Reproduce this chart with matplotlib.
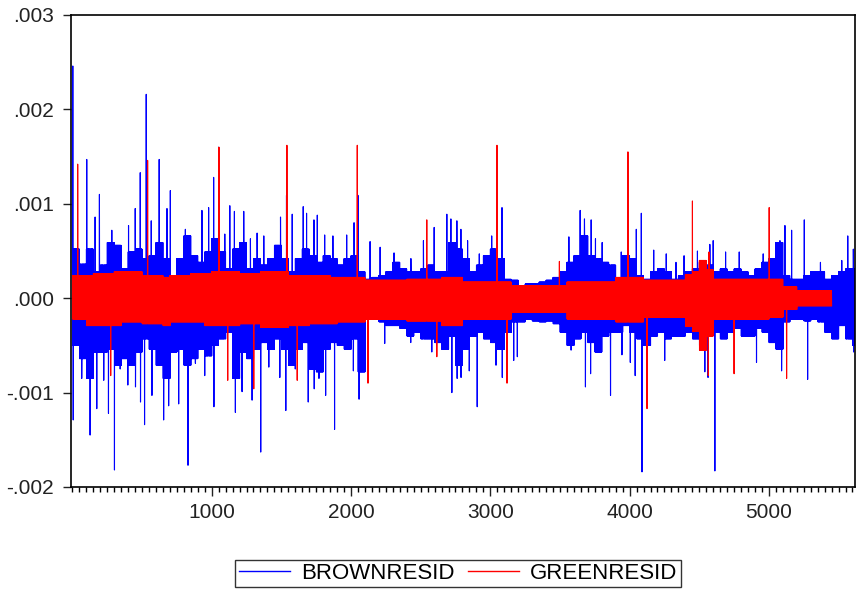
import matplotlib

matplotlib.use("Agg")
import matplotlib.pyplot as plt
import numpy as np
from matplotlib.ticker import FixedLocator, FuncFormatter, MultipleLocator

plt.rcParams["font.family"] = ["Liberation Sans", "DejaVu Sans"]

# residuals in units of 1e-3
N_BROWN = 5618
N_GREEN = 5450
BIN = 50  # observations per envelope bin

# dense body of BROWNRESID per 50-obs bin
brown_top = [0.52, 0.36, 0.52, 0.28, 0.35, 0.59, 0.56, 0.31, 0.49, 0.52,
             0.42, 0.45, 0.59, 0.42, 0.24, 0.42, 0.66, 0.45, 0.38, 0.49,
             0.63, 0.49, 0.31, 0.52, 0.59, 0.31, 0.42, 0.35, 0.42, 0.56,
             0.42, 0.28, 0.42, 0.52, 0.45, 0.38, 0.45, 0.42, 0.35, 0.42,
             0.45, 0.28, 0.20, 0.22, 0.24, 0.28, 0.38, 0.31, 0.28, 0.28,
             0.31, 0.35, 0.28, 0.28, 0.59, 0.52, 0.42, 0.28, 0.35, 0.45,
             0.52, 0.42, 0.20, 0.19, 0.13, 0.15, 0.15, 0.17, 0.19, 0.22,
             0.28, 0.38, 0.45, 0.66, 0.45, 0.42, 0.38, 0.35, 0.20, 0.45,
             0.42, 0.24, 0.20, 0.28, 0.31, 0.28, 0.20, 0.24, 0.28, 0.31,
             0.38, 0.35, 0.28, 0.31, 0.28, 0.31, 0.28, 0.24, 0.31, 0.38,
             0.42, 0.59, 0.24, 0.20, 0.20, 0.24, 0.28, 0.28, 0.20, 0.24,
             0.28, 0.31, 0.31]
brown_bot = [-0.50, -0.64, -0.85, -0.57, -0.57, -0.54, -0.71, -0.64, -0.71, -0.57,
             -0.43, -0.54, -0.71, -0.85, -0.57, -0.54, -0.71, -0.64, -0.54, -0.61,
             -0.50, -0.43, -0.36, -0.85, -0.57, -0.64, -0.54, -0.47, -0.54, -0.43,
             -0.54, -0.71, -0.54, -0.47, -0.75, -0.78, -0.54, -0.47, -0.50, -0.54,
             -0.43, -0.78, -0.22, -0.22, -0.25, -0.29, -0.29, -0.32, -0.40, -0.36,
             -0.43, -0.43, -0.47, -0.54, -0.40, -0.71, -0.54, -0.40, -0.36, -0.43,
             -0.47, -0.54, -0.36, -0.25, -0.25, -0.22, -0.24, -0.25, -0.24, -0.27,
             -0.36, -0.50, -0.43, -0.36, -0.47, -0.57, -0.40, -0.36, -0.36, -0.29,
             -0.36, -0.43, -0.50, -0.40, -0.36, -0.43, -0.40, -0.40, -0.36, -0.43,
             -0.50, -0.36, -0.36, -0.43, -0.36, -0.32, -0.40, -0.40, -0.32, -0.36,
             -0.47, -0.54, -0.25, -0.22, -0.22, -0.24, -0.22, -0.25, -0.36, -0.43,
             -0.29, -0.43, -0.50]

# isolated BROWNRESID spikes (observation, value)
brown_up_obs = [3, 103, 163, 194, 283, 403, 451, 487, 530, 566, 623, 679, 703, 811, 930, 978, 1014, 1050,
                1094, 1130, 1163, 1230, 1278, 1326, 1374, 1494, 1537, 1578, 1657, 1681, 1734, 1758, 1811,
                1870, 1969, 2022, 2050, 2137, 2209, 2309, 2430, 2520, 2597, 2688, 2717, 2760, 2789, 2837,
                2921, 3010, 3084, 3564, 3645, 3676, 3724, 3755, 3803, 3940, 4048, 4084, 4173, 4263, 4333,
                4391, 4487, 4576, 4600, 4689, 4787, 4959, 5079, 5115, 5163, 5254, 5370, 5523, 5566, 5606]
brown_up_val = [2.46, 1.47, 0.86, 1.10, 0.72, 0.77, 0.95, 1.33, 2.16, 0.82, 1.47, 0.95, 1.14, 0.73, 0.93, 0.96, 1.28, 1.60,
                0.68, 0.98, 0.92, 0.92, 0.63, 0.69, 0.66, 0.86, 1.09, 0.89, 0.97, 0.90, 0.83, 0.88, 0.67,
                0.66, 0.67, 0.80, 1.09, 0.60, 0.54, 0.48, 0.42, 0.61, 0.75, 0.89, 0.84, 0.82, 0.73, 0.61,
                0.47, 0.66, 0.96, 0.65, 0.93, 0.84, 0.83, 0.63, 0.59, 0.49, 0.73, 0.90, 0.51, 0.47, 0.38,
                0.45, 0.50, 0.57, 0.61, 0.49, 0.49, 0.47, 0.61, 0.77, 0.72, 0.83, 0.38, 0.40, 0.66, 0.52]
brown_dn_obs = [6, 67, 127, 175, 225, 259, 302, 343, 398, 453, 489, 518, 571, 655, 691, 763, 830, 883, 950,
                1016, 1170, 1218, 1290, 1352, 1410, 1489, 1532, 1600, 1693, 1736, 1770, 1818, 1882, 2017,
                2058, 2242, 2429, 2580, 2724, 2762, 2790, 2849, 2906, 3041, 3086, 3168, 3194, 3580, 3683,
                3720, 3863, 3945, 4005, 4040, 4089, 4252, 4540, 4563, 4612, 4911, 5091, 5278, 5608]
brown_dn_val = [-1.29, -0.85, -1.45, -1.17, -0.87, -1.22, -1.82, -0.75, -0.92, -0.94, -1.10, -1.34, -1.03, -1.29, -1.14, -1.12, -1.77, -0.69, -0.82,
                -1.15, -1.21, -0.99, -1.08, -1.63, -0.73, -0.84, -1.19, -0.75, -1.10, -0.96, -0.85, -1.03, -1.39, -0.77,
                -1.07, -0.48, -0.47, -0.57, -1.00, -0.85, -0.84, -0.77, -1.15, -0.71, -0.84, -0.66, -0.62, -0.55, -0.94,
                -0.80, -1.03, -0.60, -0.68, -0.82, -1.84, -0.66, -0.78, -0.84, -1.83, -0.68, -0.77, -0.86, -0.57]

# dense body of GREENRESID per 50-obs bin
green_top = ([0.24] * 3 + [0.26] * 3 + [0.28] * 4 + [0.24] * 3 + [0.22] + [0.24] * 3 + [0.26] * 3
             + [0.28] * 4 + [0.26] * 3 + [0.28] * 4 + [0.24] * 6 + [0.22] * 5 + [0.19] * 6 + [0.20] * 5
             + [0.22] * 3 + [0.17] * 7 + [0.13] * 8 + [0.17] * 7 + [0.22] * 4 + [0.19] * 6 + [0.25]
             + [0.28, 0.40, 0.30] + [0.20] * 8 + [0.20] * 2 + [0.12] * 2 + [0.08] * 5)
green_bot = ([-0.22] * 2 + [-0.29] * 5 + [-0.25] * 3 + [-0.27] * 3 + [-0.29] + [-0.25] * 5 + [-0.29] * 5
             + [-0.27] * 3 + [-0.31] * 4 + [-0.29] * 3 + [-0.27] * 4 + [-0.25] * 4 + [-0.22] * 6 + [-0.24] * 5
             + [-0.29] * 3 + [-0.22] * 7 + [-0.15] * 8 + [-0.22] * 7 + [-0.25] * 4 + [-0.20] * 6 + [-0.30]
             + [-0.35, -0.55, -0.40] + [-0.22] * 8 + [-0.20] * 2 + [-0.12] * 2 + [-0.08] * 5)

# isolated GREENRESID spikes
green_up_obs = [38, 540, 1052, 1540, 2045, 2544, 3048, 3496, 3988, 4451, 4570, 5002]
green_up_val = [1.42, 1.46, 1.60, 1.62, 1.62, 0.83, 1.62, 0.39, 1.55, 1.03, 0.49, 0.96]
green_dn_obs = [275, 1115, 1302, 1614, 2122, 2616, 3120, 4125, 4565, 4750, 5127]
green_dn_val = [-0.82, -0.87, -0.96, -0.87, -0.90, -0.62, -0.90, -1.17, -0.82, -0.80, -0.85]


def _series(n, top, bot, up_obs, up_val, dn_obs, dn_val):
    """Alternate between bin top/bottom, then drop the single spikes in."""
    y = np.empty(n)
    for k in range(len(top)):
        lo, hi = k * BIN, min((k + 1) * BIN, n)
        idx = np.arange(lo, hi)
        y[lo:hi] = np.where(idx % 2 == 0, top[k], bot[k])
    for o, v in zip(up_obs + dn_obs, up_val + dn_val):
        y[o - 1] = v
    return np.arange(1, n + 1), y * 1e-3


xb, yb = _series(N_BROWN, brown_top, brown_bot, brown_up_obs, brown_up_val, brown_dn_obs, brown_dn_val)
xg, yg = _series(N_GREEN, green_top, green_bot, green_up_obs, green_up_val, green_dn_obs, green_dn_val)

fig = plt.figure(figsize=(8.58, 5.90), dpi=100)
ax = fig.add_axes([71 / 858, 103 / 590, 784 / 858, 472 / 590])
l1, = ax.plot(xb, yb, color="#0000ff", lw=0.8, label="BROWNRESID")
l2, = ax.plot(xg, yg, color="#ff0000", lw=0.8, label="GREENRESID")

ax.set_xlim(-10, 5618)
ax.set_ylim(-0.002, 0.003)
ax.xaxis.set_major_locator(FixedLocator([1000, 2000, 3000, 4000, 5000]))
ax.xaxis.set_minor_locator(MultipleLocator(50))
ax.yaxis.set_major_locator(MultipleLocator(0.001))


def _fmt(v, pos):
    s = f"{round(v, 6):.3f}"
    return s.replace("0.", ".", 1).replace("-.000", ".000")


ax.yaxis.set_major_formatter(FuncFormatter(_fmt))
ax.tick_params(axis="x", which="major", direction="out", length=6.5, width=1, pad=5,
               labelsize=15, colors="#222222")
ax.tick_params(axis="x", which="minor", direction="out", length=3.6, width=1)
ax.tick_params(axis="y", which="major", direction="out", length=5.5, width=1, pad=7,
               labelsize=15, colors="#222222")
ax.tick_params(top=False, right=False)
for sp in ax.spines.values():
    sp.set_linewidth(1.2)
    sp.set_color("black")

leg = fig.legend(handles=[l1, l2], loc="center", bbox_to_anchor=(458 / 858, 16.5 / 590),
                 ncol=2, fontsize=16, frameon=True, fancybox=False, handlelength=2.3,
                 handletextpad=0.5, columnspacing=0.6, borderpad=0.15)
leg.get_frame().set_edgecolor("black")
leg.get_frame().set_linewidth(1.0)
for h in leg.get_lines():
    h.set_linewidth(1.0)

fig.savefig("out.png", dpi=100)
